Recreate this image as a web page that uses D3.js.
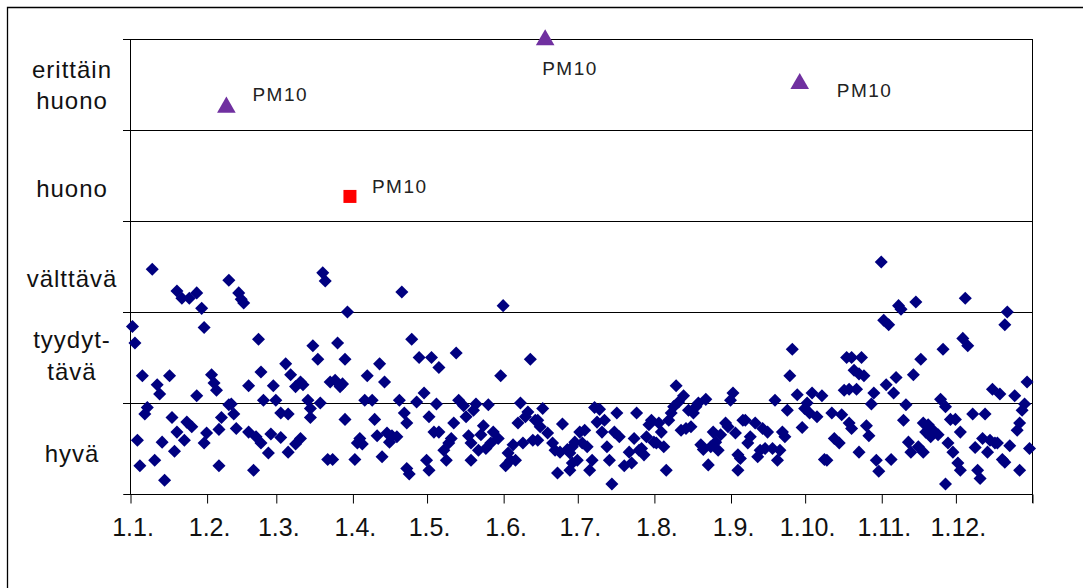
<!DOCTYPE html>
<html>
<head>
<meta charset="utf-8">
<script src="https://cdn.jsdelivr.net/npm/d3@7"></script>
<style>
  body { margin: 0; background: #fff; }
  svg { display: block; font-family: "Liberation Sans", Arial, sans-serif; }
</style>
</head>
<body>
<svg id="chart"></svg>
<script>
// Index classes, bottom to top (one band per class)
const classLabels = [["hyvä"], ["tyydyt-", "tävä"], ["välttävä"], ["huono"], ["erittäin", "huono"]];
const monthLabels = ["1.1.", "1.2.", "1.3.", "1.4.", "1.5.", "1.6.", "1.7.", "1.8.", "1.9.", "1.10.", "1.11.", "1.12."];
const pm10Text = "PM10";

// daily index: [day of year (0 = 1.1.), index value]
const dailyIndex = [
  [9,2.47],[19,2.23],[21,2.15],[24,2.15],[27,2.21],[29,2.04],[1,1.84],[30,1.83],[2,1.66],[5,1.30],
  [11,1.20],[12,1.10],[16,1.30],[33,1.31],[34,1.22],[35,1.14],[27,1.08],[7,0.95],[6,0.88],[17,0.84],
  [23,0.79],[25,0.74],[19,0.68],[22,0.59],[3,0.59],[13,0.57],[18,0.47],[31,0.67],[30,0.56],[36,0.71],
  [37,0.84],[40,0.98],[4,0.31],[10,0.37],[14,0.15],[36,0.31],
  [40,2.35],[44,2.21],[45,2.14],[46,2.10],[78,2.43],[79,2.34],[52,1.70],[74,1.63],[76,1.48],[63,1.43],
  [53,1.34],[65,1.31],[48,1.19],[58,1.19],[67,1.18],[69,1.23],[70,1.20],[81,1.23],[54,1.03],[59,1.03],
  [72,1.03],[41,0.99],[42,0.88],[61,0.89],[64,0.88],[77,1.00],[73,0.94],[73,0.84],[43,0.72],[48,0.68],
  [51,0.63],[53,0.56],[57,0.66],[61,0.62],[69,0.61],[67,0.55],[56,0.45],[64,0.46],[80,0.38],[50,0.26],
  [110,2.22],[88,2.00],[114,1.70],[84,1.66],[87,1.48],[117,1.50],[122,1.50],[101,1.43],[96,1.30],[103,1.23],
  [83,1.25],[85,1.18],[86,1.21],[95,1.03],[98,1.03],[109,1.03],[116,1.01],[119,1.11],[111,0.89],[112,0.78],
  [87,0.82],[99,0.82],[121,0.85],[123,0.68],[93,0.61],[92,0.56],[94,0.55],[100,0.64],[104,0.67],[106,0.64],
  [105,0.57],[108,0.63],[82,0.38],[91,0.38],[102,0.41],[112,0.28],[113,0.22],[120,0.37],[121,0.26],
  [151,2.07],[132,1.55],[125,1.39],[162,1.48],[150,1.30],[124,0.99],[133,1.03],[135,0.97],[140,0.99],[139,0.92],
  [145,0.98],[136,0.85],[131,0.78],[125,0.68],[143,0.75],[142,0.65],[147,0.68],[149,0.61],[146,0.56],[158,1.00],
  [161,0.90],[160,0.85],[157,0.78],[164,0.81],[130,0.61],[129,0.56],[127,0.48],[128,0.37],[137,0.64],[138,0.56],
  [141,0.48],[144,0.50],[138,0.37],[155,0.54],[159,0.56],[163,0.59],[153,0.45],[154,0.37],[152,0.31],[156,0.37],
  [167,0.94],[188,0.95],[190,0.93],[197,0.89],[205,0.89],[165,0.81],[166,0.74],[175,0.77],[189,0.79],[192,0.81],
  [184,0.70],[182,0.68],[191,0.68],[196,0.68],[198,0.63],[169,0.67],[171,0.56],[204,0.61],[165,0.59],[180,0.57],
  [179,0.52],[183,0.56],[185,0.52],[172,0.48],[174,0.46],[177,0.49],[178,0.45],[193,0.52],[202,0.46],[206,0.48],
  [181,0.37],[179,0.34],[178,0.26],[187,0.37],[186,0.26],[194,0.37],[200,0.31],[203,0.34],[173,0.23],[195,0.11],
  [221,1.19],[224,1.08],[222,1.01],[220,0.96],[219,0.89],[218,0.81],[233,1.04],[230,1.00],[229,0.96],[226,0.92],
  [228,0.89],[244,1.11],[243,1.03],[211,0.81],[214,0.78],[210,0.76],[215,0.68],[216,0.52],[223,0.70],[225,0.72],
  [227,0.74],[209,0.63],[212,0.57],[213,0.56],[207,0.50],[208,0.43],[231,0.54],[232,0.49],[235,0.52],[237,0.57],
  [236,0.68],[239,0.65],[241,0.78],[242,0.74],[245,0.67],[238,0.48],[248,0.81],[246,0.43],[247,0.39],[217,0.26],
  [234,0.32],[246,0.26],
  [268,1.59],[267,1.30],[290,1.50],[270,1.09],[276,1.11],[280,1.08],[274,1.00],[273,0.94],[275,0.89],[289,1.14],
  [261,1.03],[266,0.92],[278,0.85],[284,0.89],[288,0.87],[291,0.78],[249,0.81],[253,0.78],[256,0.72],[258,0.68],
  [264,0.68],[265,0.63],[251,0.63],[250,0.56],[285,0.61],[287,0.56],[272,0.73],[255,0.48],[254,0.41],[257,0.50],
  [260,0.50],[263,0.48],[262,0.37],[281,0.38],[282,0.37],
  [304,2.55],[311,2.07],[312,2.03],[318,2.11],[305,1.91],[307,1.86],[329,1.59],[292,1.50],[296,1.50],[320,1.48],
  [293,1.36],[295,1.32],[297,1.30],[310,1.28],[317,1.31],[291,1.15],[294,1.15],[306,1.20],[309,1.11],[301,1.11],
  [300,0.99],[314,0.98],[328,1.04],[330,0.96],[292,0.72],[313,0.81],[298,0.75],[299,0.64],[321,0.78],[323,0.76],
  [325,0.70],[327,0.65],[324,0.63],[322,0.68],[332,0.82],[315,0.57],[316,0.46],[319,0.52],[321,0.46],[331,0.56],
  [333,0.46],[295,0.46],[302,0.37],[303,0.25],[308,0.38],[330,0.11],
  [338,2.15],[355,2.00],[354,1.86],[337,1.71],[339,1.63],[363,1.23],[349,1.15],[352,1.10],[358,1.08],[362,0.99],
  [361,0.92],[360,0.78],[359,0.70],[334,0.82],[341,0.88],[346,0.88],[336,0.68],[345,0.61],[342,0.51],[348,0.59],
  [350,0.56],[351,0.56],[347,0.46],[356,0.53],[364,0.50],[353,0.38],[354,0.35],[335,0.34],[336,0.26],[343,0.26],
  [344,0.17],[360,0.26]
];

// PM10 episodes
const pm10Bad = [[89, 3.27]];
const pm10VeryBad = [[39, 4.26], [168, 5.0], [271, 4.52]];

const width = 1090, height = 588;
const svg = d3.select("#chart").attr("width", width).attr("height", height);

const year0 = new Date(2010, 0, 1);
const dayDate = d => d3.timeDay.offset(year0, d);

// scales
const x = d3.scaleTime().domain([year0, new Date(2011, 0, 1)]).range([130, 1032]);
const y = d3.scaleLinear().domain([0, classLabels.length]).range([494, 39]);

// outer frame (only top/left visible in the crop)
svg.append("path")
  .attr("d", "M7.5,588 V7.5 H1083")
  .attr("fill", "none").attr("stroke", "#000").attr("stroke-width", 1.3);

// gridlines + top border
svg.append("g")
  .selectAll("line")
  .data(d3.range(1, classLabels.length + 1))
  .join("line")
  .attr("x1", 123).attr("x2", 1032)
  .attr("y1", d => Math.round(y(d)) + 0.5).attr("y2", d => Math.round(y(d)) + 0.5)
  .attr("stroke", "#000").attr("stroke-width", 1);

// right border
svg.append("line")
  .attr("x1", 1032.5).attr("x2", 1032.5).attr("y1", y(classLabels.length)).attr("y2", 503)
  .attr("stroke", "#000");

// axes
const monthTicks = d3.range(13).map(m => new Date(2010, m, 1));
const xAxis = svg.append("g")
  .attr("transform", `translate(0.5,${Math.round(y(0)) + 0.5})`)
  .call(d3.axisBottom(x).tickValues(monthTicks).tickSize(9).tickPadding(15)
    .tickFormat((d, i) => monthLabels[i] || ""));
xAxis.select(".domain").attr("d", "M-7,0H902").attr("transform", "translate(130,0)");
xAxis.selectAll("text").attr("font-size", 25).attr("fill", "#111")
  .attr("font-family", "Liberation Sans, Arial, sans-serif").attr("dx", 2);

svg.append("g")
  .attr("transform", "translate(130.5,0)")
  .call(d3.axisLeft(y).tickValues(d3.range(classLabels.length + 1)).tickSize(7).tickFormat(""))
  .call(g => g.select(".domain").attr("d", `M0,${y(classLabels.length)}V${y(0)}`));

// class labels (baseline offsets from band centre)
const labelDy = [[13.5], [-10, 22], [20.5], [21.5], [-7, 24]];
svg.append("g")
  .selectAll("text")
  .data(classLabels)
  .join("text")
  .attr("text-anchor", "middle")
  .attr("font-size", 24)
  .attr("letter-spacing", 1)
  .attr("fill", "#111")
  .each(function(lines, i) {
    const t = d3.select(this);
    lines.forEach((ln, j) => {
      t.append("tspan").attr("x", 72).attr("y", y(i + 0.5) + labelDy[i][j]).text(ln);
    });
  });

// daily points
svg.append("g")
  .selectAll("path")
  .data(dailyIndex)
  .join("path")
  .attr("d", d3.symbol(d3.symbolSquare, 85))
  .attr("transform", d => `translate(${x(dayDate(d[0]))},${y(d[1])}) rotate(45)`)
  .attr("fill", "#000080");

// PM10 markers
svg.append("g")
  .selectAll("path")
  .data(pm10VeryBad)
  .join("path")
  .attr("d", d3.symbol(d3.symbolTriangle, 150))
  .attr("transform", d => `translate(${x(dayDate(d[0]))},${y(d[1]) + 1})`)
  .attr("fill", "#7030A0");

svg.append("g")
  .selectAll("rect")
  .data(pm10Bad)
  .join("rect")
  .attr("x", d => x(dayDate(d[0])) - 6.5)
  .attr("y", d => y(d[1]) - 6.5)
  .attr("width", 13).attr("height", 13)
  .attr("fill", "#FF0000");

// PM10 labels: offsets of the text from its marker
const textOffsets = [[22, -3], [26, -5], [-3, 36], [37, 14]];
const labelled = pm10Bad.concat(pm10VeryBad);
svg.append("g")
  .selectAll("text")
  .data(labelled)
  .join("text")
  .attr("x", (d, i) => x(dayDate(d[0])) + textOffsets[i][0])
  .attr("y", (d, i) => y(d[1]) + textOffsets[i][1])
  .attr("font-size", 19)
  .attr("letter-spacing", 1.5)
  .attr("fill", "#222")
  .text(pm10Text);
</script>
</body>
</html>
